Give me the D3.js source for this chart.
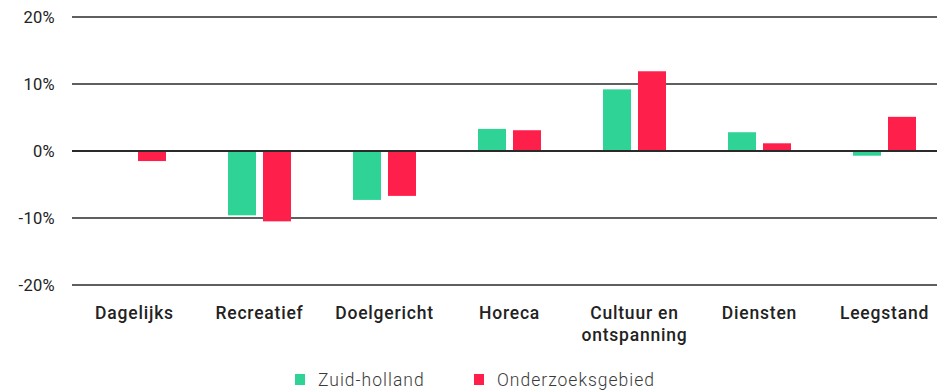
<!DOCTYPE html>
<html>
<head>
<meta charset="utf-8">
<script src="https://cdn.jsdelivr.net/npm/d3@7"></script>
<style>
  body { margin: 0; background: #fff; }
  svg { display: block; font-family: Roboto, "Noto Sans", sans-serif; }
</style>
</head>
<body>
<svg id="chart" width="937" height="390"></svg>
<script>
// Categories and series (percent change)
const categories = ["Dagelijks", "Recreatief", "Doelgericht", "Horeca", "Cultuur en\nontspanning", "Diensten", "Leegstand"];
const zuidHolland = [0.1, -9.6, -7.3, 3.3, 9.2, 2.8, -0.7];
const onderzoeksgebied = [-1.5, -10.5, -6.7, 3.1, 11.9, 1.15, 5.1];
const seriesNames = ["Zuid-holland", "Onderzoeksgebied"];
const seriesColors = ["#2fd396", "#ff1f4b"];
const yTicks = [-20, -10, 0, 10, 20];

const svg = d3.select("#chart");
const W = 937;

const x = d3.scaleBand().domain(categories).range([72, 947]).paddingInner(0).paddingOuter(0);
const y = d3.scaleLinear().domain([-20, 20]).range([285, 17]);
const xs = d3.scaleBand().domain(seriesNames).range([0, x.bandwidth()]).paddingInner(0.2).paddingOuter(0.886);

// Gridlines
svg.append("g").selectAll("line").data(yTicks).join("line")
  .attr("x1", 72).attr("x2", W)
  .attr("y1", d => y(d)).attr("y2", d => y(d))
  .attr("stroke", "#2a2a2a")
  .attr("stroke-width", d => d === 0 ? 2 : 1.5);

// Y axis labels
const yAxis = d3.axisLeft(y).tickValues(yTicks).tickFormat(d => d + "%").tickSize(0).tickPadding(0);
svg.append("g").attr("transform", "translate(55,0)").call(yAxis)
  .call(g => g.select(".domain").remove())
  .call(g => g.selectAll("text").attr("font-size", 16.5).attr("fill", "#222")
    .attr("letter-spacing", 0.3).attr("font-family", "Roboto, sans-serif"));

// Bars
const rows = categories.map((c, i) => ({ c, vals: [zuidHolland[i], onderzoeksgebied[i]] }));
const groups = svg.append("g").selectAll("g").data(rows).join("g")
  .attr("transform", d => `translate(${x(d.c)},0)`);
groups.selectAll("rect").data(d => d.vals.map((v, j) => ({ v, s: seriesNames[j], j }))).join("rect")
  .attr("x", d => xs(d.s))
  .attr("width", xs.bandwidth())
  .attr("y", d => y(Math.max(0, d.v)))
  .attr("height", d => Math.abs(y(d.v) - y(0)))
  .attr("fill", d => seriesColors[d.j]);

// Redraw zero line over bars
svg.append("line").attr("x1", 72).attr("x2", W).attr("y1", y(0)).attr("y2", y(0))
  .attr("stroke", "#2a2a2a").attr("stroke-width", 2);

// X axis labels
const xl = svg.append("g").selectAll("text").data(categories).join("text")
  .attr("x", d => x(d) + x.bandwidth() / 2)
  .attr("y", 319)
  .attr("text-anchor", "middle")
  .attr("font-size", 17.5).attr("font-weight", 500).attr("letter-spacing", 0.8).attr("fill", "#222");
xl.selectAll("tspan").data(d => d.split("\n")).join("tspan")
  .attr("x", function () { return d3.select(this.parentNode).attr("x"); })
  .attr("dy", (d, i) => i === 0 ? 0 : 22)
  .text(d => d);

// Legend
const legendX = [295, 474];
const lg = svg.append("g").selectAll("g").data(seriesNames).join("g")
  .attr("transform", (d, i) => `translate(${legendX[i]},374)`);
lg.append("rect").attr("width", 10).attr("height", 11).attr("y", 0)
  .attr("fill", (d, i) => seriesColors[i]);
lg.append("text").attr("x", 23).attr("y", 12).attr("font-size", 17.5).attr("font-weight", 300)
  .attr("letter-spacing", 1).attr("fill", "#3a3a3a").text(d => d);
</script>
</body>
</html>
